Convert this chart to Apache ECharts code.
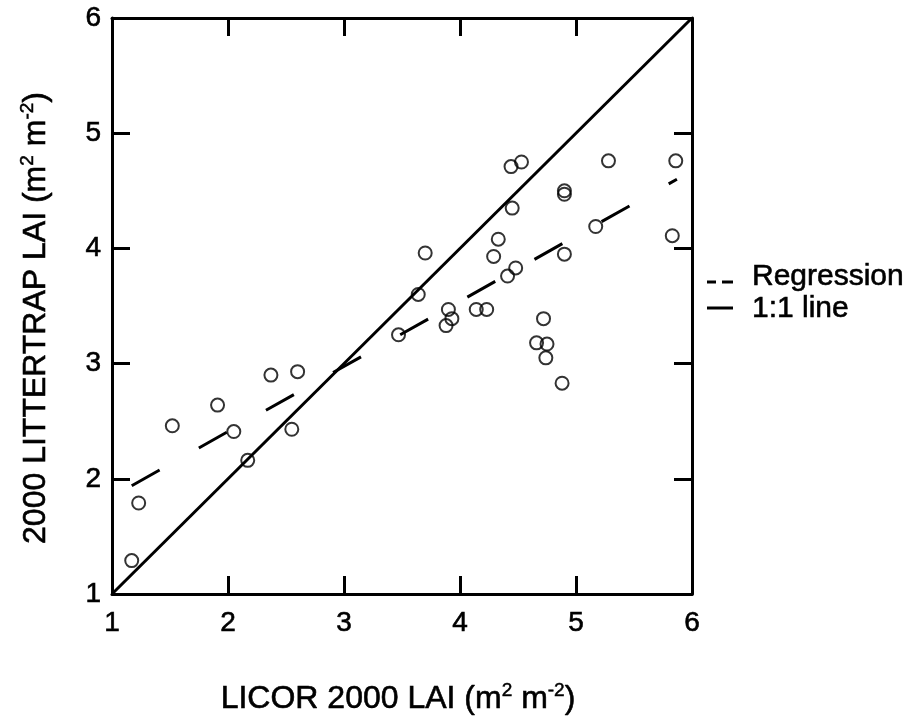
<!DOCTYPE html>
<html><head><meta charset="utf-8">
<script src="https://cdn.jsdelivr.net/npm/echarts@6/dist/echarts.min.js"></script>
<style>html,body{margin:0;padding:0;background:#fff}#c{width:916px;height:725px}</style>
</head><body><div id="c"></div>
<script>
// LICOR 2000 LAI (x) vs 2000 LITTERTRAP LAI (y)
const licorLAI = [1.17, 1.23, 1.52, 1.91, 2.05, 2.17, 2.37, 2.60, 2.55, 3.47,
                  3.64, 3.70, 3.88, 3.90, 3.93, 4.14, 4.23, 4.29, 4.33, 4.41,
                  4.48, 4.45, 4.44, 4.53, 4.90, 4.90, 4.90, 4.72, 4.66, 4.75,
                  4.74, 4.88, 5.17, 5.28, 5.83, 5.86];
const litterLAI = [1.29, 1.79, 2.46, 2.64, 2.41, 2.16, 2.90, 2.93, 2.43, 3.25,
                   3.60, 3.96, 3.33, 3.47, 3.39, 3.47, 3.47, 3.93, 4.08, 3.76,
                   3.83, 4.35, 4.71, 4.75, 4.50, 4.47, 3.95, 3.39, 3.18, 3.17,
                   3.05, 2.83, 4.19, 4.76, 4.11, 4.76];
const regX = [1.17, 5.87];
const regY = [1.94, 4.60];
const oneToOneX = [1, 6];
const oneToOneY = [1, 6];
const axisMin = 1, axisMax = 6, axisStep = 1;
const legendNames = ['Regression', '1:1 line'];

const FONT = 'Liberation Sans, Arial, Helvetica, sans-serif';
const chart = echarts.init(document.getElementById('c'), null, {renderer: 'canvas'});

function axisBase(pos, showLabel, margin) {
  return {
    type: 'value', min: axisMin, max: axisMax, interval: axisStep, position: pos,
    axisLine: {show: true, onZero: false, lineStyle: {color: '#000', width: 3}},
    axisTick: {show: true, inside: true, length: 18, lineStyle: {color: '#000', width: 3}},
    axisLabel: {show: showLabel, color: '#000', fontSize: 28, fontFamily: FONT, margin: margin,
                textBorderColor: '#000', textBorderWidth: 0.6},
    splitLine: {show: false}
  };
}

const sup = {fontSize: 19, fontFamily: FONT, fill: '#000', verticalAlign: 'top', lineHeight: 18,
             stroke: '#000', lineWidth: 0.5};
const base = {fontSize: 32, fontFamily: FONT, fill: '#000', lineHeight: 36,
              stroke: '#000', lineWidth: 0.6};

chart.setOption({
  animation: false,
  backgroundColor: '#fff',
  grid: {left: 112, top: 18, width: 580, height: 576},
  xAxis: [axisBase('bottom', true, 15), axisBase('top', false, 8)],
  yAxis: [axisBase('left', true, 11), axisBase('right', false, 8)],
  series: [
    {
      type: 'line', name: legendNames[1], xAxisIndex: 0, yAxisIndex: 0,
      data: oneToOneX.map((x, i) => [x, oneToOneY[i]]),
      symbol: 'none', lineStyle: {color: '#000', width: 3}, z: 2
    },
    {
      type: 'line', name: legendNames[0], xAxisIndex: 0, yAxisIndex: 0,
      data: regX.map((x, i) => [x, regY[i]]),
      symbol: 'none', lineStyle: {color: '#000', width: 3, type: [32, 45]}, z: 2
    },
    {
      type: 'scatter', xAxisIndex: 0, yAxisIndex: 0,
      data: licorLAI.map((x, i) => [x, litterLAI[i]]),
      symbol: 'circle', symbolSize: 13,
      itemStyle: {color: 'rgba(0,0,0,0)', borderColor: '#000', borderWidth: 2},
      z: 3
    }
  ],
  graphic: [
    {type: 'text', x: 398, y: 699, style: {
      text: '{b|LICOR 2000 LAI (m}{s|2}{b| m}{s|-2}{b|)}',
      rich: {b: base, s: sup}, align: 'center', verticalAlign: 'middle'}},
    {type: 'text', x: 36, y: 318, rotation: Math.PI / 2, style: {
      text: '{b|2000 LITTERTRAP LAI (m}{s|2}{b| m}{s|-2}{b|)}',
      rich: {b: base, s: sup}, align: 'center', verticalAlign: 'middle'}},
    {type: 'line', shape: {x1: 707, y1: 282, x2: 716, y2: 282}, style: {stroke: '#000', lineWidth: 3}},
    {type: 'line', shape: {x1: 722, y1: 282, x2: 733, y2: 282}, style: {stroke: '#000', lineWidth: 3}},
    {type: 'line', shape: {x1: 707, y1: 308, x2: 733, y2: 308}, style: {stroke: '#000', lineWidth: 3}},
    {type: 'text', x: 752, y: 277, style: {text: legendNames[0], fontSize: 30, fontFamily: FONT, fill: '#000',
      verticalAlign: 'middle', stroke: '#000', lineWidth: 0.6}},
    {type: 'text', x: 752, y: 309, style: {text: legendNames[1], fontSize: 30, fontFamily: FONT, fill: '#000',
      verticalAlign: 'middle', stroke: '#000', lineWidth: 0.6}}
  ]
});
</script></body></html>
